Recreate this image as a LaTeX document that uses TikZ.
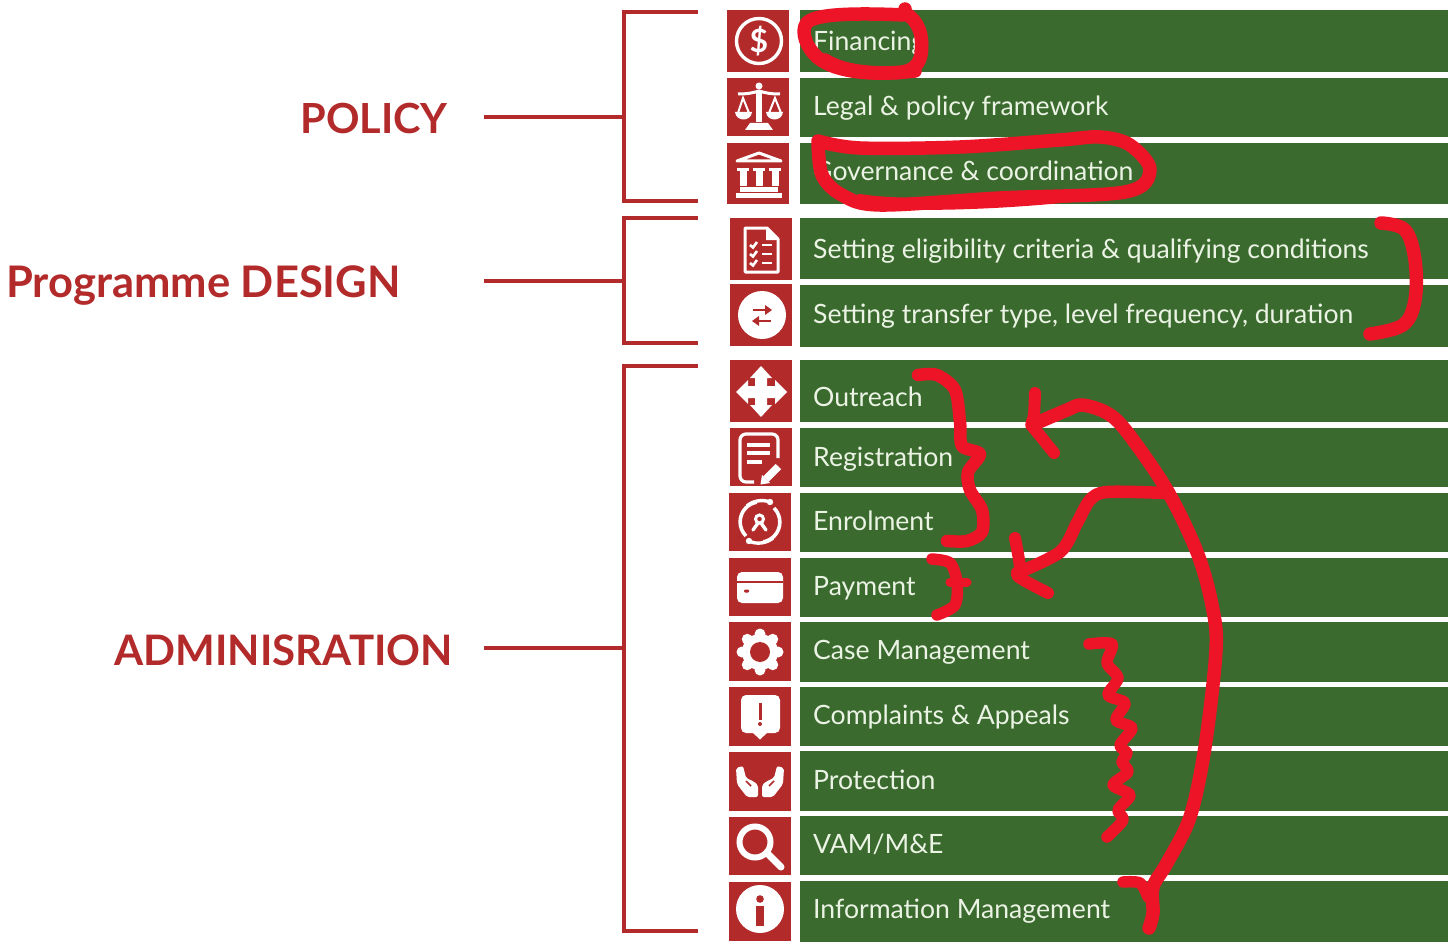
\documentclass[tikz,border=0pt]{standalone}
\usepackage{fontspec}
\setmainfont{Lato}
\definecolor{brick}{HTML}{B32A2B}
\definecolor{bar}{HTML}{3B6A2E}
\definecolor{ink}{HTML}{ED1427}
\definecolor{barText}{HTML}{EAF3E4}
\newcommand{\rowbar}[5]{%
  \pgfmathsetmacro{\rowh}{#3-#2}\pgfmathsetmacro{\rowc}{(#3+#2)/2}
  \node[barbox,minimum height=\rowh pt] (bar#1) at (1124,\rowc) {};
  \node[rowtext] (txt#1) at (813,#4) {#5};}
\newcommand{\iconbox}[5]{%
  \pgfmathsetmacro{\rowh}{#5-#4}\pgfmathsetmacro{\rowc}{(#5+#4)/2}\pgfmathsetmacro{\rowx}{#2+31}
  \node[iconsq,minimum height=\rowh pt] (ico#1) at (\rowx,\rowc) {};}
\begin{document}
\begin{tikzpicture}[x=1pt,y=-1pt,
  barbox/.style={fill=bar,inner sep=0,minimum width=648pt},
  iconsq/.style={fill=brick,inner sep=0,minimum width=62pt},
  rowtext/.style={anchor=base west,inner sep=0,text=barText,font=\fontsize{26.6}{30}\selectfont},
  head/.style={anchor=base east,inner sep=0,text=brick,font=\bfseries},
  brack/.style={draw=brick,line width=3.6pt},
  wl/.style={draw=white,line width=3.4pt},
  pen/.style={draw=ink,line width=13.5pt,line cap=round,line join=round}]
\useasboundingbox (0,0) rectangle (1449,947);
\fill[white] (0,0) rectangle (1449,947);

% rows
\rowbar{a}{10}{72}{51}{Financing}
\rowbar{b}{78}{137}{116}{Legal \& policy framework}
\rowbar{c}{143}{204}{180}{Governance \& coordination}
\rowbar{d}{218}{279}{258}{Setting eligibility criteria \& qualifying conditions}
\rowbar{e}{285}{347}{323}{Setting transfer type, level frequency, duration}
\rowbar{f}{360}{422}{406}{Outreach}
\rowbar{g}{428}{487}{466}{Registration}
\rowbar{h}{493}{552}{530}{Enrolment}
\rowbar{i}{558}{617}{595}{Payment}
\rowbar{j}{622}{682}{659}{Case Management}
\rowbar{k}{687}{746}{724}{Complaints \& Appeals}
\rowbar{l}{751}{811}{789}{Protection}
\rowbar{m}{816}{875}{853}{VAM/M\&E}
\rowbar{n}{881}{942}{918}{Information Management}

% icon squares
\iconbox{a}{727}{790}{10}{72}
\iconbox{b}{727}{790}{78}{136}
\iconbox{c}{727}{790}{143}{204}
\iconbox{d}{730}{792}{218}{280}
\iconbox{e}{730}{792}{284}{346}
\iconbox{f}{730}{792}{360}{422}
\iconbox{g}{730}{792}{428}{486}
\iconbox{h}{729}{791}{493}{551}
\iconbox{i}{729}{791}{558}{616}
\iconbox{j}{729}{791}{622}{681}
\iconbox{k}{729}{791}{687}{746}
\iconbox{l}{729}{791}{752}{811}
\iconbox{m}{729}{791}{817}{875}
\iconbox{n}{729}{791}{882}{941}

% headings
\node[head,font=\fontsize{41.5}{44}\selectfont\bfseries] (policy) at (448,134) {POLICY};
\node[head,font=\fontsize{43.5}{46}\selectfont\bfseries] (design) at (401,297) {Programme DESIGN};
\node[head,font=\fontsize{42}{44}\selectfont\bfseries] (admin) at (453,665) {ADMINISRATION};

% brackets and connectors
\coordinate (pa) at (698,12); \coordinate (pb) at (624,12); \coordinate (pc) at (624,201); \coordinate (pd) at (698,201);
\coordinate (pm) at (624,117); \coordinate (pl) at (484,117);
\coordinate (da) at (698,218); \coordinate (db) at (624,218); \coordinate (dc) at (624,343); \coordinate (dd) at (698,343);
\coordinate (dm) at (624,281); \coordinate (dl) at (484,281);
\coordinate (aa) at (698,366); \coordinate (ab) at (624,366); \coordinate (ac) at (624,931); \coordinate (ad) at (698,931);
\coordinate (am) at (624,648); \coordinate (al) at (484,648);
\draw[brack] (pa) -- (pb) -- (pc) -- (pd); \draw[brack] (pl) -- (pm);
\draw[brack] (da) -- (db) -- (dc) -- (dd); \draw[brack] (dl) -- (dm);
\draw[brack] (aa) -- (ab) -- (ac) -- (ad); \draw[brack] (al) -- (am);

% icon 1: dollar
\draw[wl] (759,41) circle (22.5);
\node[inner sep=0,text=white,font=\fontsize{32}{32}\selectfont\bfseries] (dollar) at (759,41) {\$};

% icon 2: scales
\fill[white] (756,90) rectangle (762,122);
\fill[white] (759,86) circle (3.5);
\fill[white] (750,123) -- (768,123) -- (773,130) -- (745,130) -- cycle;
\draw[white,line width=3pt] (738,94) .. controls (748,94) and (752,93) .. (759,91) .. controls (766,93) and (770,94) .. (780,94);
\draw[white,line width=2pt] (738,113) -- (743,98) -- (749,113);
\draw[white,line width=2pt] (769,113) -- (775,98) -- (781,113);
\fill[white] (735,112) -- (752,112) .. controls (751,122) and (736,122) .. (735,112) -- cycle;
\fill[white] (766,112) -- (783,112) .. controls (782,122) and (767,122) .. (766,112) -- cycle;

% icon 3: bank
\draw[white,line width=3pt,line join=round] (737,161) -- (759,153) -- (781,161) -- cycle;
\foreach \cx in {743,759,775} {
  \fill[white] (\cx-3.5,170) rectangle (\cx+3.5,186);
  \fill[white] (\cx-6,168) rectangle (\cx+6,171);
}
\fill[white] (740,187) rectangle (778,191.5);
\fill[white] (736,193) rectangle (782,197.5);

% icon 4: checklist document
\draw[white,line width=3pt,line join=round] (745,228) -- (767,228) -- (778,239) -- (778,272) -- (745,272) -- cycle;
\fill[white] (766,228) -- (766,240) -- (778,240) -- cycle;
\foreach \ry in {245,254,263} {
  \draw[white,line width=2.6pt] (750,\ry) -- (753,\ry+2.5) -- (757,\ry-3);
  \draw[white,line width=2.8pt] (762,\ry) -- (772,\ry);
}

% icon 5: transfer arrows
\fill[white] (762,315) circle (24);
\draw[brick,line width=2.4pt] (753,310) -- (769,310);
\fill[brick] (772,310) -- (765,305) -- (765,315) -- cycle;
\draw[brick,line width=2.4pt] (755,321) -- (771,321);
\fill[brick] (752,321) -- (759,316) -- (759,326) -- cycle;

% icon 6: move
\fill[white] (761,366) -- (772,378) -- (767,378) -- (767,386) -- (775,386) -- (775,380) -- (787,392) -- (775,404) -- (775,398) -- (767,398) -- (767,405) -- (772,405) -- (761,417) -- (750,405) -- (755,405) -- (755,398) -- (748,398) -- (748,404) -- (736,392) -- (748,380) -- (748,386) -- (755,386) -- (755,378) -- (750,378) -- cycle;

% icon 7: form and pencil
\draw[white,line width=3.2pt,rounded corners=6pt] (754,482) -- (740,482) -- (740,434) -- (778,434) -- (778,458);
\foreach \ry/\rx in {445/770,453/770,462/762} \fill[white] (747,\ry-2) rectangle (\rx,\ry+2);
\draw[white,line width=7.5pt] (779,466) -- (766,479);
\draw[brick,line width=1pt] (774,461.5) -- (783,470);
\fill[white] (760.5,484.5) -- (762,475) -- (770,483) -- cycle;

% icon 8: enrolment
\draw[white,line width=3.6pt] (746,536) arc[start angle=135,end angle=260,radius=20] ;
\draw[white,line width=3.6pt] (774,508) arc[start angle=-45,end angle=80,radius=20] ;
\draw[white,line width=3.4pt] (747,506) .. controls (752,501) and (762,499) .. (770,502);
\draw[white,line width=3.4pt] (773,538) .. controls (767,543) and (757,545) .. (749,541);
\fill[white] (770,502) circle (3.2);
\fill[white] (749,541) circle (3.2);
\draw[white,line width=3pt] (759.5,519) circle (4);
\draw[white,line width=3.4pt,line cap=round] (753,530) -- (758,523);
\draw[white,line width=3.4pt,line cap=round] (766,530) -- (761,523);

% icon 9: card
\fill[white,rounded corners=5pt] (737,572) rectangle (783,603);
\fill[brick] (737,580.5) rectangle (783,582.5);
\fill[brick,rounded corners=1pt] (744,589.5) rectangle (749,592.5);

% icon 10: gear
\fill[white] (760,652) circle (18);
\foreach \ang in {0,45,...,315} \fill[white] (760,652) ++(\ang:18) circle (5.5);
\fill[brick] (760,652) circle (10);

% icon 11: complaint bubble
\fill[white,rounded corners=5pt] (741,695) rectangle (780,733);
\fill[white] (752,732) -- (768,732) -- (760,739.5) -- cycle;
\fill[brick] (759,703) rectangle (761.5,720);
\fill[brick] (760,724) circle (2);

% icon 12: hands
\fill[white,rounded corners=2pt] (736,768) -- (743,766) -- (746,778) -- (753,781) -- (758,785) -- (758,797) -- (747,797) -- (737,784) -- cycle;
\fill[white,rounded corners=2pt] (784,768) -- (777,766) -- (774,778) -- (767,781) -- (762,785) -- (762,797) -- (773,797) -- (783,784) -- cycle;
\draw[brick,line width=1.6pt] (746,781) -- (751,786);
\draw[brick,line width=1.6pt] (774,781) -- (769,786);

% icon 13: magnifier
\draw[white,line width=6pt] (755,842) circle (15.5);
\draw[white,line width=7pt,line cap=round] (767,853) -- (781,867);

% icon 14: info
\fill[white] (760,909) circle (24);
\fill[brick] (760,899) circle (3.8);
\fill[brick] (756,906) rectangle (764,926);

% marker strokes
\draw[pen] (905,9) -- (905,13) .. controls (918,20) and (924,35) .. (921,55) .. controls (918,68) and (910,73) .. (890,73) .. controls (860,74) and (832,70) .. (817,57) .. controls (806,47) and (801,32) .. (806,24) .. controls (812,13) and (860,13) .. (905,15);
\draw[pen] (825,60) .. controls (845,73) and (880,75) .. (915,71);
\draw[pen] plot[smooth,tension=.55] coordinates {(818,141) (860,148) (960,147) (1060,140) (1100,137) (1130,145) (1150,170) (1125,192) (1000,198) (880,205) (842,195) (822,175) (818,141)};
\draw[pen,line width=12pt] (860,200) .. controls (900,207) and (1000,204) .. (1080,195);
\draw[pen] plot[smooth,tension=.6] coordinates {(1381,223) (1405,230) (1415,260) (1415,300) (1403,325) (1370,334)};
\draw[pen,line width=12.5pt] plot[smooth,tension=.5] coordinates {(918,375) (937,375) (955,390) (960,422) (962,446) (980,454) (968,472) (970,490) (982,510) (982,532) (967,541) (947,541)};
\draw[pen,line width=11.5pt] plot[smooth,tension=.5] coordinates {(932,559) (950,563) (957,582) (955,605) (937,615)};
\draw[pen,line width=9pt] (950,582) -- (967,582);
\draw[pen,line width=11.5pt] plot[smooth,tension=.5] coordinates {(1089,644) (1112,644) (1107,663) (1118,678) (1108,695) (1125,703) (1116,720) (1132,728) (1120,745) (1127,753) (1122,762) (1128,772) (1113,785) (1130,795) (1118,810) (1123,820) (1107,837)};
% long curve with arrow
\draw[pen] plot[smooth,tension=.55] coordinates {(1032,425) (1067,410) (1082,405) (1107,413) (1127,432) (1167,490) (1197,552) (1212,605) (1216,650) (1205,747) (1190,817) (1167,863) (1153,887) (1153,913) (1149,928)};
\draw[pen,line width=12pt] plot[smooth,tension=.5] coordinates {(1035,393) (1034,415) (1032,425) (1042,438) (1054,453)};
\draw[pen,line width=11.5pt] plot[smooth,tension=.5] coordinates {(1123,882) (1140,883) (1148,897)};
% branch with arrow
\draw[pen,line width=12.5pt] plot[smooth,tension=.5] coordinates {(1166,493) (1107,492) (1090,500) (1077,523) (1060,552) (1017,573)};
\draw[pen,line width=12pt] plot[smooth,tension=.5] coordinates {(1015,538) (1020,567) (1017,575) (1027,582) (1048,593)};
\end{tikzpicture}
\end{document}
